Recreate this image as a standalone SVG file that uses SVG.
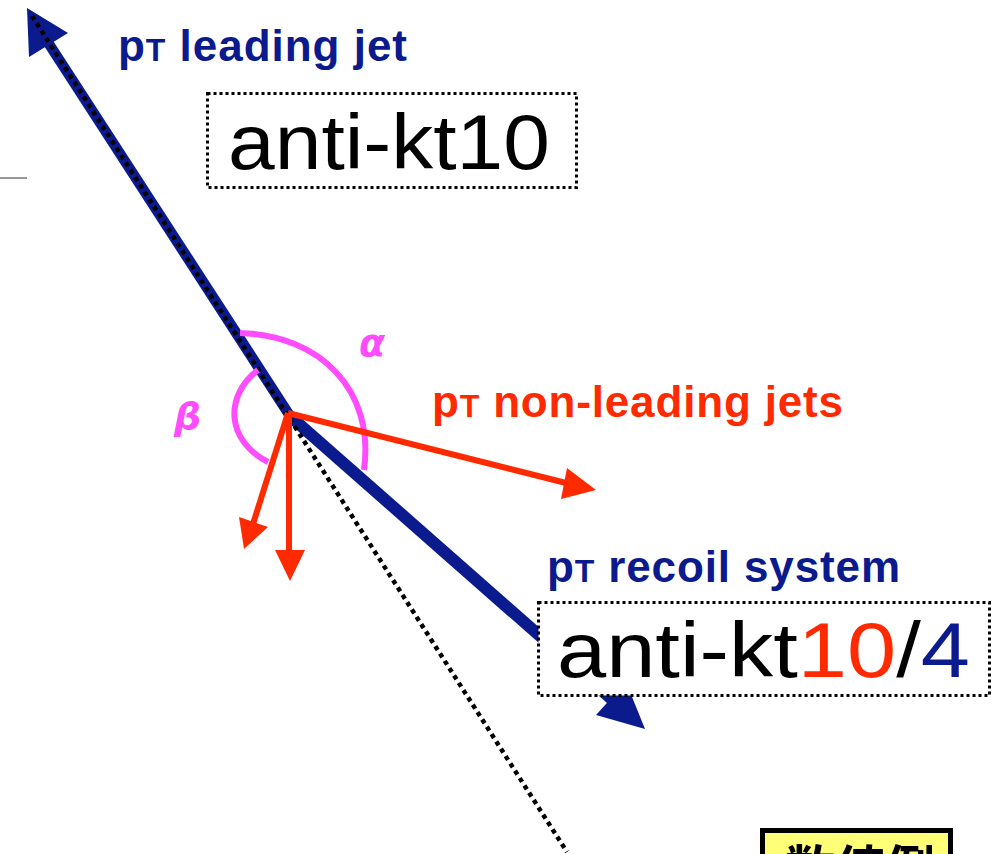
<svg xmlns="http://www.w3.org/2000/svg" width="1004" height="854" viewBox="0 0 1004 854">
<style>
.navy{stroke:#0b1a8c;fill:none}
.red{stroke:#ff2a00;stroke-width:6;fill:none}
.arc{stroke:#ff4cff;stroke-width:6;fill:none}
.dots{stroke:#000;stroke-width:4.5;stroke-dasharray:4.5 4.2;fill:none}
.box{fill:#fff;stroke:#000;stroke-width:3;stroke-dasharray:3 3}
.lbl{font-family:"Liberation Sans",Arial,sans-serif;font-weight:bold;font-size:44px}
.big{font-family:"Liberation Sans",Arial,sans-serif;font-size:77px;fill:#000}
.greek{font-family:"DejaVu Sans","Liberation Sans",sans-serif;font-style:italic;font-weight:bold;font-size:38px;fill:#ff4cff}
</style>
<rect width="1004" height="854" fill="#fff"/>
<line x1="0" y1="178" x2="27" y2="178" stroke="#999" stroke-width="2"/>
<g id="connectors">
  <g id="leading-jet">
    <line class="navy" x1="290" y1="416" x2="49" y2="44" stroke-width="10.5"/>
    <polygon points="27,8 29,57 68,33" fill="#0b1a8c"/>
  </g>
  <g id="recoil">
    <line class="navy" x1="291" y1="417" x2="615" y2="702" stroke-width="12"/>
    <polygon points="645,729 596,715 626,682" fill="#0b1a8c"/>
  </g>
  <line id="axis" class="dots" x1="32" y1="16" x2="567" y2="852"/>
  <g id="angles">
    <path class="arc" d="M240,333 C320,335 375,390 364,470"/>
    <path class="arc" d="M258,370 C225,395 225,440 268,462"/>
  </g>
  <g id="non-leading">
    <line class="red" x1="288" y1="413" x2="570" y2="484"/>
    <polygon points="596,490 567,468 561,499" fill="#ff2a00"/>
    <line class="red" x1="288" y1="413" x2="253" y2="524"/>
    <polygon points="244,549 239,517 268,527" fill="#ff2a00"/>
    <line class="red" x1="289" y1="413" x2="289" y2="555"/>
    <polygon points="290,581 275,550 305,550" fill="#ff2a00"/>
  </g>
</g>
<g id="label-leading">
  <text class="lbl" x="118" y="61" fill="#0b1a8c" textLength="289" lengthAdjust="spacing">p<tspan font-size="32">T</tspan> leading jet</text>
</g>
<g id="box-antikt10">
  <rect class="box" x="207.5" y="93.5" width="369" height="94"/>
  <text class="big" x="228" y="169" textLength="322" lengthAdjust="spacingAndGlyphs">anti-kt10</text>
</g>
<g id="label-alpha"><text class="greek" x="359" y="356">α</text></g>
<g id="label-beta"><text class="greek" x="174" y="429">β</text></g>
<g id="label-nonleading">
  <text class="lbl" x="432" y="417" fill="#ff2a00" textLength="411" lengthAdjust="spacing">p<tspan font-size="32">T</tspan> non-leading jets</text>
</g>
<g id="label-recoil">
  <text class="lbl" x="547" y="582" fill="#0b1a8c" textLength="353" lengthAdjust="spacing">p<tspan font-size="32">T</tspan> recoil system</text>
</g>
<g id="box-antikt104">
  <rect class="box" x="538.5" y="602.5" width="451" height="93"/>
  <text class="big" x="557" y="677" textLength="413" lengthAdjust="spacingAndGlyphs">anti-kt<tspan fill="#ff2a00">10</tspan>/<tspan fill="#0b1a8c">4</tspan></text>
</g>
<g id="example-box">
  <rect x="762.5" y="830.5" width="188" height="100" fill="#ffff78" stroke="#000" stroke-width="5"/>
  <text x="785" y="887" font-family="'Noto Sans CJK JP',sans-serif" font-weight="bold" font-size="50" fill="#000">数値例</text>
</g>
</svg>
